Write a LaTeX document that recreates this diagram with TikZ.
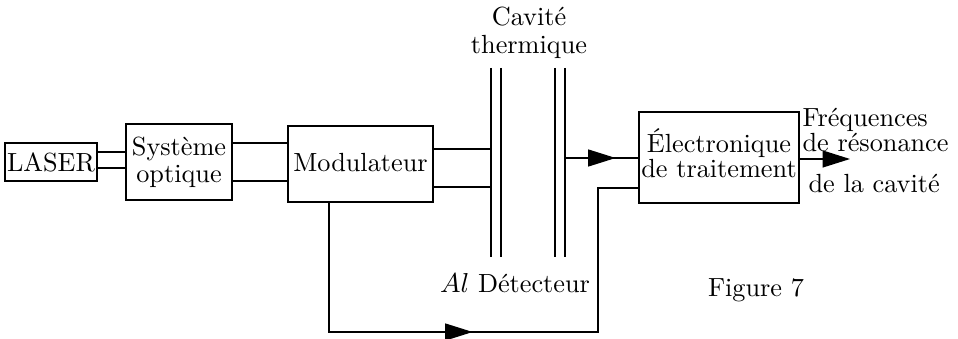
\documentclass[tikz,border=0pt]{standalone}
\usepackage{fontspec}
\usetikzlibrary{arrows.meta,decorations.markings}

\tikzset{
  box/.style={draw, line width=0.5pt, inner sep=0pt, align=center},
  wire/.style={line width=0.5pt},
  bigtip/.tip={Triangle[length=11pt,width=6.8pt]},
  midarrow/.style={postaction={decorate}, decoration={markings,
      mark=at position #1 with {\arrow{bigtip}}}},
  lbl/.style={inner sep=0pt, align=center}
}

\begin{document}
\begin{tikzpicture}[x=0.4pt,y=-0.4pt,font=\fontsize{10.5}{12}\selectfont]
\useasboundingbox (0,0) rectangle (958,339);

% blocks
\node[box, minimum width=36.8pt, minimum height=15.2pt] (laser) at (51,162) {LASER};
\node[box, minimum width=42.4pt, minimum height=30.4pt] (optique) at (179,162) {Système\\[-1.2pt]optique};
\node[box, minimum width=58pt, minimum height=30.4pt] (modul) at (360.5,164) {\raisebox{1.5pt}{Modulateur}};
\node[box, minimum width=64pt, minimum height=36.4pt] (elec) at (719,157.5) {\raisebox{3pt}{\begin{tabular}{@{}c@{}}Électronique\\[-1.8pt]de traitement\end{tabular}}};

% thermal cavity plates
\coordinate (alA) at (491,68);
\coordinate (alB) at (501,68);
\coordinate (detA) at (555,68);
\coordinate (detB) at (565,68);
\draw[wire] (alA) -- ++(0,189);
\draw[wire] (alB) -- ++(0,189);
\draw[wire] (detA) -- ++(0,189);
\draw[wire] (detB) -- ++(0,189);

% beams
\draw[wire] (laser.east |- 0,152) -- (optique.west |- 0,152);
\draw[wire] (laser.east |- 0,168) -- (optique.west |- 0,168);
\draw[wire] (optique.east |- 0,143) -- (modul.west |- 0,143);
\draw[wire] (optique.east |- 0,181) -- (modul.west |- 0,181);
\draw[wire] (modul.east |- 0,149) -- (alA |- 0,149);
\draw[wire] (modul.east |- 0,187) -- (alA |- 0,187);

% signals
\draw[wire, midarrow=0.69] (detB |- 0,158) -- (elec.west |- 0,158);
\draw[wire, midarrow=109.2pt] (modul.south -| 329,0) -- (329,332) -- (598,332)
  -- (598,188) -- (elec.west |- 0,188);
\coordinate (out) at (850,159);
\draw[wire, -bigtip] (elec.east |- out) -- (out);

% labels
\node[lbl] (cavite) at (529,33) {Cavité\\[-1pt]thermique};
\node[lbl] (detect) at (515,283) {$Al$ Détecteur};
\node[lbl, anchor=west, align=left] (freq) at (802,130) {Fréquences\\[-2pt]de résonance};
\node[lbl, anchor=west] (cav) at (808,183) {de la cavité};
\node[lbl] (fig) at (756,290) {Figure 7};
\end{tikzpicture}
\end{document}
